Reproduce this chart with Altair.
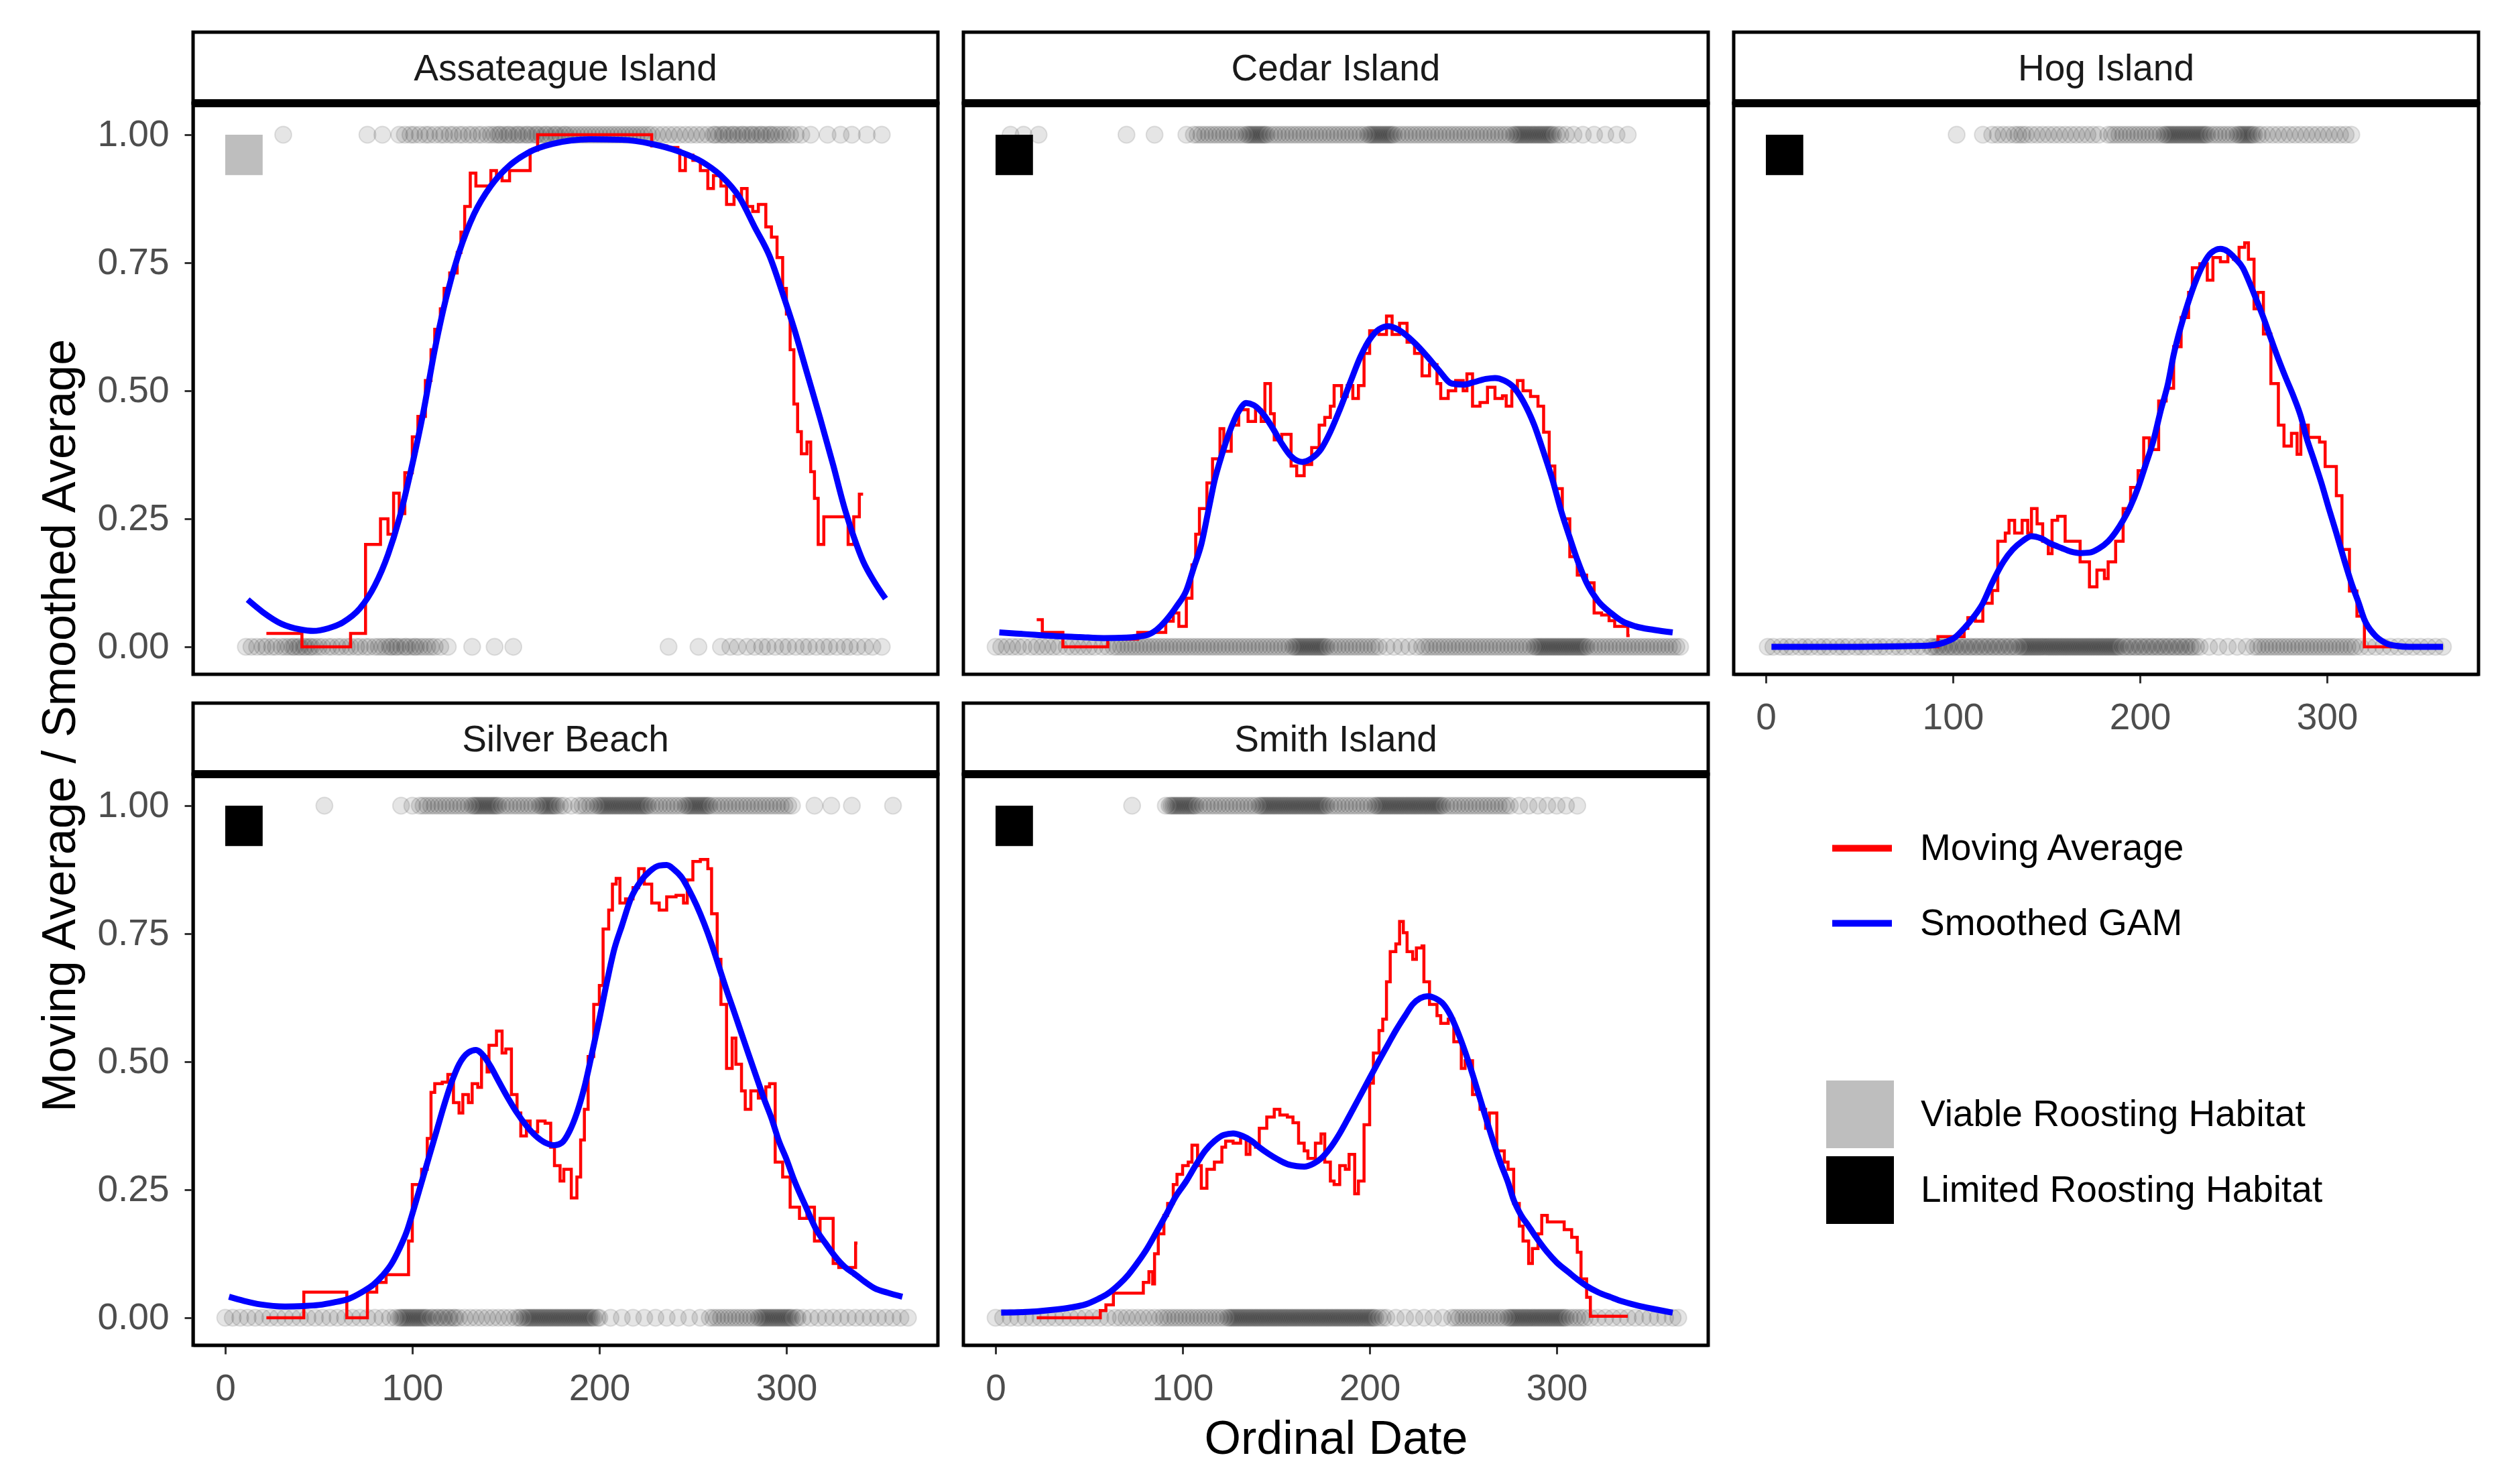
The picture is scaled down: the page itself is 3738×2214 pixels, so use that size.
import altair as alt
import pandas as pd

FONT = "Liberation Sans"
W = 1111          # panel width (px)
H = 852           # panel height (px)
STRIP_H = 106     # strip height (first row)
STRIP_GAP = 43    # white gap above second-row strips

SERIES = ["Moving Average", "Smoothed GAM"]
SERIES_COLORS = ["#FF0000", "#0000FF"]
HABITATS = ["Viable Roosting Habitat", "Limited Roosting Habitat"]
HAB_COLORS = ["#BEBEBE", "#000000"]

X_DOMAIN = [-17.2, 381.0]
Y_DOMAIN = [-0.0537, 1.0615]
X_TICKS = [0, 100, 200, 300]
Y_TICKS = [0, 0.25, 0.5, 0.75, 1.0]

# habitat marker square (x from / to, y from / to)
SQ_X = [0, 20]
SQ_Y = [0.921, 1.0]

# ---------------- Assateague Island ----------------
ASSA_MA = [(22, 0.026), (41, 0.0), (67, 0.026), (75, 0.2), (83, 0.25), (87, 0.22), (90, 0.30), (93, 0.26),
           (96, 0.34), (100, 0.41), (103, 0.45), (107, 0.52), (110, 0.58), (112, 0.62), (115, 0.66), (117, 0.70),
           (120, 0.73), (124, 0.77), (126, 0.81), (128, 0.86), (131, 0.925), (134, 0.90), (138, 0.90), (142, 0.93),
           (145, 0.92), (148, 0.91), (152, 0.93), (156, 0.93), (163, 0.97), (167, 1.0), (228, 0.978), (236, 0.975),
           (242, 0.97), (243, 0.93), (246, 0.96), (250, 0.95), (254, 0.93), (258, 0.895), (261, 0.92), (265, 0.90),
           (268, 0.864), (272, 0.88), (276, 0.895), (279, 0.86), (282, 0.85), (285, 0.864), (289, 0.82), (292, 0.80),
           (295, 0.76), (298, 0.70), (300, 0.65), (302, 0.58), (304, 0.474), (306, 0.42), (308, 0.377), (311, 0.40),
           (313, 0.342), (315, 0.29), (317, 0.2), (320, 0.254), (333, 0.2), (336, 0.254), (339, 0.298), (341, 0.298)]
ASSA_GAM = [(12, 0.092), (20, 0.068), (30, 0.045), (40, 0.034), (47, 0.031), (55, 0.036), (63, 0.048), (72, 0.075),
            (80, 0.12), (87, 0.18), (93, 0.25), (99, 0.34), (106, 0.46), (112, 0.58), (118, 0.68), (125, 0.77),
            (133, 0.845), (142, 0.90), (152, 0.94), (162, 0.965), (175, 0.982), (195, 0.991), (212, 0.99),
            (228, 0.982), (242, 0.968), (255, 0.947), (265, 0.92), (275, 0.877), (283, 0.82), (291, 0.763),
            (298, 0.69), (304, 0.623), (311, 0.535), (318, 0.447), (325, 0.355), (331, 0.272), (336, 0.215),
            (341, 0.167), (347, 0.127), (353, 0.094)]
ASSA_P1 = [31, 76, 84, 93, 96, 99, 101, 104, 107, 109, 112, 115, 117, 120, 122, 125, 127, 130, 132, 135, 137, 140,
           142, 144, 146, 147, 149, 151, 152, 154, 156, 157, 159, 161, 162, 164, 166, 167, 169, 171, 172, 174, 176,
           177, 179, 181, 182, 184, 186, 188, 190, 192, 194, 196, 198, 200, 202, 204, 206, 208, 210, 212, 214, 216,
           218, 220, 222, 224, 226, 228, 231, 234, 237, 240, 243, 246, 249, 252, 255, 258, 261, 262, 264, 266, 267,
           269, 271, 272, 274, 276, 277, 279, 281, 282, 284, 286, 287, 289, 291, 292, 294, 296, 298, 300, 302, 305,
           308, 313, 322, 329, 335, 343, 351]
ASSA_P0 = [11, 14, 17, 20, 22, 25, 27, 30, 32, 34, 36, 37, 39, 40, 42, 43, 45, 46, 48, 50, 52, 55, 57, 60, 62, 65,
           67, 70, 72, 75, 77, 80, 82, 84, 86, 88, 89, 91, 92, 94, 96, 97, 99, 101, 102, 104, 106, 108, 110, 112,
           115, 119, 132, 144, 154, 237, 253, 265, 270, 274, 279, 283, 287, 290, 294, 298, 301, 305, 309, 312, 316,
           320, 323, 327, 331, 334, 338, 342, 346, 351]

# ---------------- Cedar Island ----------------
CEDAR_MA = [(22, 0.053), (25, 0.028), (36, 0.0), (60, 0.015), (76, 0.028), (91, 0.05), (95, 0.066), (98, 0.04),
            (102, 0.095), (105, 0.16), (107, 0.22), (109, 0.27), (113, 0.32), (116, 0.367), (120, 0.426),
            (122, 0.382), (126, 0.433), (130, 0.463), (135, 0.44), (139, 0.463), (142, 0.44), (144, 0.514),
            (147, 0.455), (149, 0.404), (153, 0.415), (158, 0.353), (161, 0.334), (165, 0.356), (169, 0.389),
            (173, 0.433), (176, 0.448), (179, 0.47), (181, 0.51), (185, 0.489), (188, 0.51), (191, 0.485),
            (194, 0.51), (197, 0.573), (200, 0.617), (205, 0.61), (209, 0.646), (212, 0.61), (216, 0.632),
            (220, 0.595), (224, 0.573), (228, 0.529), (232, 0.551), (236, 0.514), (238, 0.485), (242, 0.50),
            (246, 0.52), (250, 0.50), (252, 0.533), (255, 0.47), (259, 0.477), (263, 0.507), (267, 0.485),
            (271, 0.49), (273, 0.47), (276, 0.50), (279, 0.52), (282, 0.50), (286, 0.489), (290, 0.47),
            (293, 0.419), (296, 0.353), (299, 0.309), (303, 0.25), (307, 0.176), (311, 0.14), (316, 0.125),
            (320, 0.066), (324, 0.062), (328, 0.051), (331, 0.04), (338, 0.022), (339, 0.022)]
CEDAR_GAM = [(2, 0.028), (15, 0.025), (32, 0.021), (45, 0.019), (58, 0.017), (70, 0.018), (80, 0.022), (86, 0.033),
             (91, 0.051), (97, 0.08), (102, 0.11), (106, 0.155), (110, 0.20), (114, 0.27), (117, 0.323),
             (121, 0.375), (125, 0.419), (130, 0.46), (134, 0.476), (138, 0.472), (143, 0.455), (148, 0.428),
             (153, 0.397), (158, 0.372), (164, 0.361), (169, 0.368), (174, 0.386), (179, 0.42), (184, 0.463),
             (190, 0.52), (195, 0.566), (200, 0.60), (205, 0.62), (210, 0.626), (215, 0.62), (219, 0.61),
             (225, 0.59), (231, 0.566), (237, 0.54), (244, 0.514), (250, 0.512), (256, 0.517), (262, 0.523),
             (267, 0.525), (272, 0.52), (277, 0.507), (282, 0.48), (288, 0.433), (293, 0.38), (298, 0.323),
             (302, 0.27), (307, 0.213), (311, 0.17), (316, 0.125), (322, 0.09), (329, 0.066), (335, 0.05),
             (342, 0.04), (352, 0.033), (362, 0.028)]
CEDAR_P1 = [8, 15, 23, 70, 85, 102, 106, 108, 110, 112, 114, 116, 118, 120, 122, 124, 126, 128, 130, 132, 134, 135,
            136, 137, 138, 139, 140, 141, 142, 143, 144, 145, 147, 149, 151, 153, 155, 157, 159, 161, 163, 165, 167,
            169, 171, 173, 175, 177, 179, 181, 183, 185, 187, 189, 191, 193, 195, 197, 199, 200, 201, 202, 203, 204,
            205, 206, 207, 208, 209, 210, 211, 212, 213, 215, 217, 219, 221, 223, 225, 227, 229, 231, 233, 235, 237,
            239, 241, 243, 245, 247, 249, 251, 253, 255, 257, 259, 261, 263, 265, 267, 269, 271, 273, 275, 277, 278,
            279, 280, 281, 282, 283, 284, 285, 286, 287, 288, 289, 290, 291, 292, 293, 294, 295, 296, 297, 298, 300,
            302, 305, 309, 314, 320, 326, 332, 338]
CEDAR_P0 = [0, 3, 6, 9, 12, 15, 19, 22, 25, 28, 31, 34, 38, 41, 44, 47, 50, 53, 57, 60, 63, 65, 67, 69, 71, 73, 75,
            77, 79, 81, 83, 85, 87, 89, 91, 93, 95, 97, 99, 101, 103, 105, 107, 109, 111, 113, 115, 117, 119, 121,
            123, 125, 127, 129, 131, 133, 135, 137, 139, 141, 143, 145, 147, 149, 151, 153, 155, 157, 159, 160, 161,
            162, 163, 164, 165, 166, 167, 168, 169, 170, 171, 172, 173, 174, 175, 176, 177, 179, 181, 183, 185, 187,
            189, 191, 193, 195, 197, 199, 201, 203, 205, 209, 213, 217, 221, 225, 228, 230, 232, 234, 236, 238, 240,
            242, 244, 246, 248, 250, 252, 254, 256, 258, 260, 262, 264, 266, 268, 270, 272, 274, 276, 278, 280, 282,
            284, 286, 288, 289, 290, 291, 292, 293, 294, 295, 296, 297, 298, 299, 300, 301, 302, 303, 304, 305, 306,
            307, 308, 309, 310, 311, 312, 313, 314, 315, 316, 318, 320, 322, 324, 326, 328, 330, 332, 334, 336, 338,
            340, 342, 344, 346, 348, 350, 352, 354, 356, 358, 360, 362, 364, 366]

# ---------------- Hog Island ----------------
HOG_MA = [(83, 0.0), (92, 0.02), (100, 0.02), (106, 0.036), (108, 0.057), (112, 0.05), (116, 0.085), (121, 0.11),
          (124, 0.206), (128, 0.222), (130, 0.247), (133, 0.222), (137, 0.247), (140, 0.222), (142, 0.27),
          (145, 0.24), (148, 0.206), (151, 0.182), (153, 0.247), (156, 0.255), (160, 0.206), (164, 0.206),
          (168, 0.166), (173, 0.117), (177, 0.15), (181, 0.133), (183, 0.166), (187, 0.206), (191, 0.27),
          (195, 0.311), (199, 0.344), (202, 0.408), (205, 0.385), (210, 0.48), (214, 0.505), (218, 0.586),
          (222, 0.643), (226, 0.692), (228, 0.74), (232, 0.748), (236, 0.716), (239, 0.76), (243, 0.752),
          (247, 0.765), (250, 0.757), (253, 0.78), (256, 0.789), (258, 0.757), (261, 0.66), (263, 0.692),
          (266, 0.611), (270, 0.514), (274, 0.433), (277, 0.392), (281, 0.417), (284, 0.376), (286, 0.433),
          (290, 0.409), (296, 0.40), (299, 0.352), (305, 0.295), (308, 0.19), (312, 0.109), (316, 0.06),
          (320, 0.0), (338, 0.0)]
HOG_GAM = [(3, 0.0), (40, 0.0), (85, 0.002), (95, 0.008), (101, 0.018), (106, 0.036), (111, 0.058), (116, 0.085),
           (121, 0.125), (127, 0.166), (132, 0.19), (137, 0.206), (142, 0.216), (147, 0.212), (152, 0.202),
           (158, 0.193), (163, 0.186), (168, 0.183), (173, 0.184), (178, 0.192), (183, 0.206), (187, 0.224),
           (191, 0.247), (195, 0.275), (199, 0.311), (203, 0.355), (207, 0.40), (211, 0.46), (215, 0.514),
           (218, 0.57), (222, 0.627), (226, 0.675), (230, 0.716), (234, 0.748), (238, 0.769), (243, 0.777),
           (247, 0.772), (251, 0.758), (255, 0.74), (258, 0.716), (262, 0.68), (266, 0.643), (270, 0.602),
           (274, 0.562), (278, 0.525), (282, 0.49), (286, 0.45), (289, 0.409), (293, 0.365), (297, 0.32),
           (301, 0.27), (305, 0.222), (309, 0.172), (313, 0.125), (317, 0.085), (320, 0.053), (325, 0.025),
           (331, 0.008), (337, 0.002), (344, 0.0), (362, 0.0)]
HOG_P1 = [102, 116, 121, 124, 127, 130, 133, 135, 137, 139, 142, 145, 148, 151, 154, 157, 160, 163, 166, 169, 172,
          175, 178, 183, 185, 187, 189, 191, 193, 195, 197, 199, 201, 203, 205, 207, 209, 211, 213, 214, 215, 216,
          217, 218, 219, 220, 221, 222, 223, 224, 225, 226, 227, 228, 229, 230, 231, 232, 233, 234, 235, 236, 238,
          240, 242, 244, 246, 248, 250, 252, 253, 254, 255, 256, 257, 258, 259, 260, 261, 263, 265, 268, 271, 274,
          277, 280, 283, 286, 289, 292, 295, 298, 301, 304, 307, 310, 313]
HOG_P0 = [1, 4, 8, 11, 14, 18, 21, 24, 28, 31, 34, 38, 41, 44, 48, 51, 54, 58, 61, 64, 68, 71, 74, 78, 81, 84, 88,
          89, 91, 92, 94, 95, 97, 98, 100, 101, 103, 104, 106, 107, 109, 110, 112, 113, 115, 116, 118, 119, 121,
          122, 124, 125, 127, 128, 130, 131, 133, 134, 136, 137, 138, 139, 140, 141, 142, 143, 144, 145, 146, 147,
          148, 149, 150, 151, 152, 153, 154, 155, 156, 157, 158, 159, 160, 161, 162, 163, 164, 165, 166, 167, 168,
          169, 170, 171, 172, 173, 174, 175, 176, 177, 178, 179, 180, 181, 182, 183, 184, 185, 186, 187, 188, 189,
          191, 192, 194, 195, 197, 198, 200, 201, 203, 204, 206, 207, 209, 210, 212, 213, 215, 216, 218, 219, 221,
          222, 224, 225, 227, 228, 230, 232, 237, 242, 247, 252, 257, 261, 263, 265, 267, 269, 271, 273, 275, 277,
          279, 281, 283, 285, 287, 289, 291, 293, 295, 297, 299, 301, 303, 305, 307, 309, 311, 313, 315, 318, 322,
          326, 330, 334, 338, 342, 346, 350, 354, 358, 362]

# ---------------- Silver Beach ----------------
SILVER_MA = [(22, 0.0), (42, 0.05), (65, 0.0), (76, 0.05), (81, 0.069), (86, 0.084), (95, 0.084), (98, 0.15),
             (100, 0.26), (105, 0.29), (108, 0.35), (110, 0.44), (112, 0.457), (116, 0.46), (119, 0.475),
             (122, 0.42), (125, 0.40), (127, 0.436), (130, 0.42), (132, 0.457), (135, 0.45), (137, 0.51),
             (140, 0.48), (141, 0.532), (145, 0.56), (148, 0.517), (150, 0.525), (153, 0.436), (156, 0.40),
             (158, 0.355), (161, 0.384), (163, 0.363), (167, 0.384), (171, 0.38), (174, 0.333), (176, 0.297),
             (179, 0.267), (181, 0.29), (185, 0.234), (188, 0.275), (190, 0.347), (192, 0.407), (194, 0.51),
             (197, 0.612), (200, 0.649), (202, 0.759), (205, 0.796), (207, 0.847), (209, 0.858), (211, 0.81),
             (214, 0.818), (218, 0.84), (221, 0.877), (224, 0.847), (228, 0.81), (232, 0.796), (236, 0.822),
             (241, 0.825), (245, 0.81), (247, 0.855), (250, 0.891), (254, 0.895), (258, 0.877), (260, 0.789),
             (263, 0.70), (265, 0.612), (268, 0.487), (271, 0.546), (273, 0.495), (276, 0.443), (278, 0.407),
             (281, 0.443), (285, 0.429), (289, 0.451), (291, 0.457), (294, 0.304), (298, 0.275), (302, 0.216),
             (307, 0.194), (311, 0.216), (315, 0.15), (318, 0.194), (325, 0.106), (328, 0.098), (337, 0.146),
             (338, 0.146)]
SILVER_GAM = [(2, 0.041), (10, 0.033), (19, 0.026), (32, 0.022), (42, 0.023), (50, 0.025), (58, 0.03), (66, 0.037),
              (73, 0.05), (79, 0.064), (84, 0.082), (89, 0.106), (93, 0.134), (97, 0.168), (101, 0.215),
              (105, 0.265), (109, 0.315), (113, 0.365), (117, 0.415), (121, 0.46), (125, 0.495), (130, 0.518),
              (134, 0.523), (138, 0.512), (142, 0.49), (146, 0.463), (151, 0.43), (156, 0.40), (161, 0.375),
              (166, 0.355), (171, 0.342), (176, 0.337), (180, 0.342), (184, 0.364), (188, 0.40), (192, 0.45),
              (196, 0.515), (200, 0.583), (204, 0.655), (208, 0.72), (212, 0.765), (217, 0.82), (222, 0.852),
              (227, 0.872), (232, 0.883), (236, 0.884), (240, 0.875), (244, 0.86), (248, 0.835), (252, 0.805),
              (256, 0.77), (260, 0.73), (264, 0.685), (268, 0.64), (272, 0.598), (276, 0.555), (280, 0.512),
              (284, 0.47), (288, 0.428), (292, 0.39), (296, 0.345), (300, 0.31), (304, 0.27), (310, 0.22),
              (316, 0.172), (321, 0.145), (326, 0.12), (331, 0.1), (337, 0.084), (342, 0.07), (347, 0.058),
              (354, 0.049), (362, 0.041)]
SILVER_P1 = [53, 94, 100, 104, 106, 108, 110, 112, 114, 116, 118, 120, 122, 124, 126, 128, 130, 132, 133, 134, 135,
             136, 137, 138, 139, 140, 141, 142, 143, 144, 145, 146, 148, 150, 152, 154, 156, 158, 160, 162, 164, 166,
             168, 169, 170, 171, 172, 173, 174, 175, 176, 177, 179, 181, 185, 189, 191, 193, 195, 197, 199, 200, 201,
             202, 203, 204, 205, 206, 207, 208, 209, 210, 211, 212, 213, 214, 215, 216, 217, 218, 219, 220, 221, 222,
             223, 224, 225, 226, 228, 230, 232, 234, 236, 238, 240, 242, 244, 246, 247, 248, 249, 250, 251, 252, 253,
             254, 255, 256, 257, 258, 259, 261, 263, 265, 267, 269, 271, 273, 275, 277, 279, 281, 283, 285, 287, 289,
             291, 293, 295, 297, 299, 301, 303, 315, 324, 335, 357]
SILVER_P0 = [0, 4, 8, 12, 16, 20, 24, 28, 32, 36, 40, 44, 48, 52, 56, 60, 64, 68, 72, 76, 80, 84, 88, 91, 93, 94,
             95, 96, 97, 98, 99, 100, 101, 102, 103, 104, 105, 106, 107, 108, 110, 111, 113, 114, 116, 117, 119, 120,
             122, 123, 125, 128, 131, 134, 137, 140, 143, 146, 149, 152, 155, 157, 158, 160, 161, 162, 163, 164, 165,
             166, 167, 168, 169, 170, 171, 172, 173, 174, 175, 176, 177, 178, 179, 180, 181, 182, 183, 184, 185, 186,
             187, 188, 189, 190, 191, 192, 193, 194, 195, 196, 197, 199, 200, 206, 212, 218, 224, 230, 236, 242, 248,
             254, 259, 261, 263, 265, 267, 269, 271, 273, 275, 277, 279, 281, 283, 285, 286, 287, 288, 289, 290, 291,
             292, 293, 294, 295, 296, 297, 298, 299, 300, 301, 302, 303, 305, 306, 309, 313, 317, 321, 325, 329, 333,
             337, 341, 345, 349, 353, 357, 361, 365]

# ---------------- Smith Island ----------------
SMITH_MA = [(22, 0.0), (56, 0.014), (59, 0.025), (63, 0.048), (79, 0.069), (82, 0.09), (84, 0.066), (85, 0.125),
            (87, 0.164), (90, 0.20), (92, 0.223), (95, 0.26), (97, 0.28), (100, 0.297), (103, 0.304), (105, 0.337),
            (108, 0.297), (110, 0.253), (113, 0.29), (117, 0.304), (121, 0.333), (123, 0.345), (127, 0.341),
            (131, 0.352), (134, 0.319), (136, 0.341), (139, 0.333), (141, 0.37), (145, 0.392), (149, 0.407),
            (152, 0.396), (156, 0.392), (159, 0.381), (162, 0.341), (165, 0.326), (167, 0.311), (171, 0.341),
            (174, 0.359), (176, 0.304), (179, 0.267), (181, 0.26), (184, 0.297), (187, 0.29), (189, 0.319),
            (192, 0.242), (194, 0.267), (197, 0.377), (200, 0.458), (202, 0.517), (205, 0.561), (207, 0.583),
            (209, 0.656), (211, 0.715), (214, 0.73), (216, 0.774), (218, 0.752), (220, 0.715), (223, 0.70),
            (225, 0.722), (228, 0.726), (229, 0.656), (232, 0.612), (236, 0.59), (238, 0.575), (242, 0.583),
            (245, 0.539), (249, 0.487), (251, 0.502), (255, 0.436), (259, 0.407), (262, 0.37), (264, 0.40),
            (268, 0.326), (272, 0.304), (274, 0.29), (277, 0.223), (280, 0.179), (282, 0.15), (285, 0.106),
            (287, 0.135), (290, 0.164), (292, 0.20), (295, 0.187), (300, 0.187), (304, 0.172), (308, 0.157),
            (311, 0.128), (313, 0.076), (316, 0.04), (318, 0.003), (338, 0.003)]
SMITH_GAM = [(3, 0.01), (15, 0.011), (32, 0.016), (40, 0.02), (48, 0.026), (55, 0.037), (60, 0.047), (66, 0.065),
             (71, 0.084), (76, 0.108), (81, 0.135), (86, 0.167), (91, 0.20), (96, 0.235), (102, 0.267), (107, 0.298),
             (112, 0.326), (117, 0.345), (122, 0.357), (127, 0.36), (132, 0.355), (137, 0.345), (141, 0.333),
             (146, 0.32), (151, 0.309), (156, 0.30), (161, 0.296), (165, 0.295), (170, 0.301), (174, 0.311),
             (179, 0.332), (184, 0.36), (189, 0.393), (194, 0.427), (200, 0.468), (205, 0.502), (210, 0.535),
             (214, 0.561), (219, 0.59), (223, 0.612), (227, 0.624), (231, 0.628), (235, 0.624), (239, 0.614),
             (243, 0.592), (246, 0.568), (250, 0.53), (254, 0.487), (258, 0.44), (262, 0.392), (266, 0.345),
             (270, 0.302), (274, 0.264), (277, 0.23), (281, 0.2), (285, 0.179), (290, 0.152), (295, 0.128),
             (300, 0.108), (306, 0.09), (311, 0.075), (316, 0.062), (322, 0.05), (329, 0.04), (335, 0.032),
             (342, 0.025), (352, 0.017), (362, 0.01)]
SMITH_P1 = [73, 91, 93, 94, 95, 96, 97, 98, 99, 100, 101, 102, 103, 104, 105, 106, 107, 109, 111, 113, 115, 117, 119,
            121, 123, 125, 127, 129, 131, 133, 135, 137, 139, 141, 142, 143, 144, 145, 146, 147, 148, 149, 150, 151,
            152, 153, 154, 155, 156, 157, 158, 159, 160, 161, 162, 163, 164, 165, 166, 167, 168, 169, 170, 171, 172,
            173, 174, 175, 176, 177, 179, 181, 183, 185, 187, 189, 191, 193, 195, 197, 199, 201, 203, 204, 205, 206,
            207, 208, 209, 210, 211, 212, 213, 214, 215, 216, 217, 218, 219, 220, 221, 222, 223, 224, 225, 226, 227,
            228, 229, 230, 231, 232, 233, 234, 235, 236, 237, 238, 239, 241, 243, 245, 247, 249, 251, 253, 255, 257,
            259, 261, 263, 265, 267, 269, 271, 273, 275, 280, 285, 290, 295, 300, 305, 311]
SMITH_P0 = [0, 4, 8, 12, 16, 20, 24, 28, 32, 36, 40, 44, 48, 52, 56, 60, 64, 67, 70, 73, 76, 79, 82, 85, 88, 90, 92,
            94, 96, 98, 100, 102, 104, 106, 108, 110, 112, 114, 116, 118, 120, 122, 124, 125, 126, 127, 128, 129,
            130, 131, 132, 133, 134, 135, 136, 137, 138, 139, 140, 141, 142, 143, 144, 145, 146, 147, 148, 149, 150,
            151, 152, 153, 154, 155, 156, 157, 158, 159, 160, 161, 162, 163, 164, 165, 166, 167, 168, 169, 170, 171,
            172, 173, 174, 175, 176, 177, 178, 179, 180, 181, 182, 183, 184, 185, 186, 187, 188, 189, 190, 191, 192,
            193, 194, 195, 196, 197, 198, 199, 200, 201, 202, 203, 205, 207, 209, 214, 219, 224, 229, 234, 239, 244,
            246, 248, 250, 252, 254, 256, 258, 260, 262, 264, 266, 268, 270, 272, 274, 275, 276, 277, 278, 279, 280,
            281, 282, 283, 284, 285, 286, 287, 288, 289, 290, 291, 292, 293, 294, 295, 296, 297, 298, 299, 300, 301,
            302, 303, 304, 305, 307, 309, 311, 313, 315, 318, 322, 326, 330, 334, 338, 342, 346, 350, 354, 358, 362,
            365]

# ---------------- chart construction ----------------
XSCALE = alt.Scale(domain=X_DOMAIN, nice=False, zero=False)
YSCALE = alt.Scale(domain=Y_DOMAIN, nice=False, zero=False)

AXIS_COMMON = dict(labelFont=FONT, labelFontSize=55, labelColor="#4D4D4D", tickSize=13, tickWidth=3,
                   tickColor="#333333", domainColor="black", domainWidth=4, grid=False,
                   labelFlush=False, labelOverlap=False)

COLOR = alt.Color("series:N", scale=alt.Scale(domain=SERIES, range=SERIES_COLORS),
                  legend=alt.Legend(orient="none", legendX=2440, legendY=1168, title=None,
                                    symbolType="stroke", symbolSize=7921, symbolStrokeWidth=10,
                                    labelFont=FONT, labelFontSize=55, labelColor="black",
                                    labelOffset=37, rowPadding=34, labelLimit=1500, padding=0))
FILL = alt.Fill("habitat:N", scale=alt.Scale(domain=HABITATS, range=HAB_COLORS),
                legend=alt.Legend(orient="none", legendX=2436, legendY=1564, title=None,
                                  symbolType="square", symbolSize=10201, symbolStrokeWidth=0,
                                  symbolOpacity=1, labelFont=FONT, labelFontSize=55, labelColor="black",
                                  labelOffset=40, rowPadding=12, labelLimit=1500, padding=0))


def x_axis(show, title=False):
    if not show:
        return None
    kw = dict(AXIS_COMMON, values=X_TICKS, format="d", labelBaseline="alphabetic", labelPadding=68, title="")
    if title:
        kw.update(title="Ordinal Date", titleFont=FONT, titleFontSize=70, titleFontWeight="normal",
                  titleColor="black", titleBaseline="alphabetic", titleAlign="center",
                  titleX=W / 2, titleY=161)
    return alt.Axis(**kw)


def y_axis(show, title=False):
    if not show:
        return None
    kw = dict(AXIS_COMMON, values=Y_TICKS, format=".2f", labelBaseline="middle", labelAlign="right",
              labelPadding=23, title="")
    if title:
        kw.update(title="Moving Average / Smoothed Average", titleFont=FONT, titleFontSize=70,
                  titleFontWeight="normal", titleColor="black", titleAngle=270,
                  titleBaseline="alphabetic", titleAlign="center", titleX=-177, titleY=928)
    return alt.Axis(**kw)


def panel(ma, gam, p1, p0, habitat, xa, ya):
    X = alt.X("day:Q", scale=XSCALE, axis=xa)
    Y = alt.Y("val:Q", scale=YSCALE, axis=ya)
    pts = pd.DataFrame({"day": p1 + p0, "val": [1.0] * len(p1) + [0.0] * len(p0)})
    ma_df = pd.DataFrame(ma, columns=["day", "val"]).assign(series=SERIES[0])
    gam_df = pd.DataFrame(gam, columns=["day", "val"]).assign(series=SERIES[1])
    sq = pd.DataFrame({"day": [SQ_X[0]], "day2": [SQ_X[1]], "val": [SQ_Y[0]], "val2": [SQ_Y[1]],
                       "habitat": [habitat]})
    l_pts = alt.Chart(pts).mark_circle(size=620, color="black", fillOpacity=0.1, stroke="black",
                                       strokeWidth=2, strokeOpacity=0.1).encode(x=X, y=Y)
    l_ma = alt.Chart(ma_df).mark_line(interpolate="step-after", strokeWidth=4.5).encode(x=X, y=Y, color=COLOR)
    l_gam = alt.Chart(gam_df).mark_line(interpolate="monotone", strokeWidth=9).encode(x=X, y=Y, color=COLOR)
    l_sq = alt.Chart(sq).mark_rect().encode(x=X, x2="day2:Q", y=Y, y2="val2:Q", fill=FILL)
    return alt.layer(l_pts, l_ma, l_gam, l_sq).properties(
        width=W, height=H, view=alt.ViewBackground(stroke="black", strokeWidth=5))


def strip(name, h, top):
    base = alt.Chart(pd.DataFrame({"label": [name]}))
    box = base.mark_rect(fill="white", stroke="black", strokeWidth=5).encode(
        x=alt.value(0), x2=alt.value(W), y=alt.value(top), y2=alt.value(h))
    bar = base.mark_rule(color="black", strokeWidth=12).encode(
        x=alt.value(0), x2=alt.value(W), y=alt.value(h))
    txt = base.mark_text(font=FONT, fontSize=55, color="#1A1A1A", baseline="middle").encode(
        text="label:N", x=alt.value(W / 2), y=alt.value((top + h) / 2 + 2))
    return alt.layer(box, bar, txt).properties(width=W, height=h)


def blank(h):
    return alt.Chart(pd.DataFrame({"z": [0]})).mark_point(opacity=0).encode(
        x=alt.value(0), y=alt.value(0)).properties(width=W, height=h)


p_assa = panel(ASSA_MA, ASSA_GAM, ASSA_P1, ASSA_P0, HABITATS[0], x_axis(False), y_axis(True, True))
p_cedar = panel(CEDAR_MA, CEDAR_GAM, CEDAR_P1, CEDAR_P0, HABITATS[1], x_axis(False), y_axis(False))
p_hog = panel(HOG_MA, HOG_GAM, HOG_P1, HOG_P0, HABITATS[1], x_axis(True), y_axis(False))
p_silver = panel(SILVER_MA, SILVER_GAM, SILVER_P1, SILVER_P0, HABITATS[1], x_axis(True), y_axis(True))
p_smith = panel(SMITH_MA, SMITH_GAM, SMITH_P1, SMITH_P0, HABITATS[1], x_axis(True, True), y_axis(False))

row2_h = STRIP_H + STRIP_GAP
chart = alt.concat(
    strip("Assateague Island", STRIP_H, 0), strip("Cedar Island", STRIP_H, 0), strip("Hog Island", STRIP_H, 0),
    p_assa, p_cedar, p_hog,
    strip("Silver Beach", row2_h, STRIP_GAP), strip("Smith Island", row2_h, STRIP_GAP), blank(row2_h),
    p_silver, p_smith, blank(H),
    columns=3,
).properties(
    spacing={"row": 0, "column": 38}, bounds="flush", align="each",
    padding={"left": 44, "top": 37, "right": 20, "bottom": 10}, background="white",
).resolve_scale(
    x="independent", y="independent", color="shared", fill="shared"
).configure_view(stroke="transparent")

chart.save("out.html", embed_options={"renderer": "svg", "actions": False})
